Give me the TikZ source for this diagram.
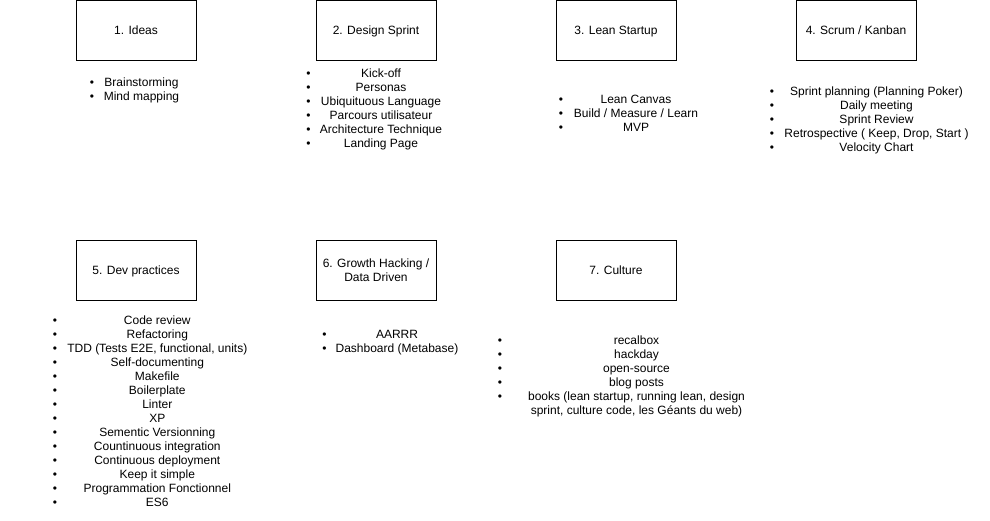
\documentclass[tikz,border=0pt]{standalone}
\usepackage{fontspec}
\setmainfont{Liberation Sans}
\begin{document}
\begin{tikzpicture}[x=1pt,y=-1pt,
  boxbase/.style={draw, line width=1pt, minimum width=120pt, minimum height=60pt, inner sep=0pt, align=center, font=\fontsize{12}{14}\selectfont},
  box/.style={boxbase, text height=9pt, text depth=0pt},
  itm/.style={inner sep=0pt, anchor=base, font=\fontsize{12}{14}\selectfont},
  bul/.style={inner sep=0pt, anchor=base, font=\fontsize{12}{14}\selectfont}]
\useasboundingbox (0,0) rectangle (990,520);
% boxes
\node[box] (b1) at (136,30) {1. Ideas};
\node[box] (b2) at (376,30) {2. Design Sprint};
\node[box] (b3) at (616,30) {3. Lean Startup};
\node[box] (b4) at (856,30) {4. Scrum / Kanban};
\node[box] (b5) at (136,270) {5. Dev practices};
\node[boxbase] (b6) at (376,270) {6. Growth Hacking /\\Data Driven};
\node[box] (b7) at (616,270) {7. Culture};
% lists
\foreach \t [count=\i] in {Brainstorming, Mind mapping} {
  \node[itm] (l1-\i) at (141.5, 86+14*\i-14) {\t};
  \node[bul] (d1-\i) at (92, 86+14*\i-14) {\textbullet};
}
\foreach \t [count=\i] in {Kick-off, Personas, Ubiquituous Language, Parcours utilisateur, Architecture Technique, Landing Page} {
  \node[itm] (l2-\i) at (381, 77.5+14*\i-14) {\t};
  \node[bul] (d2-\i) at (308.5, 77.5+14*\i-14) {\textbullet};
}
\foreach \t [count=\i] in {Lean Canvas, Build / Measure / Learn, MVP} {
  \node[itm] (l3-\i) at (636, 103+14*\i-14) {\t};
  \node[bul] (d3-\i) at (561, 103+14*\i-14) {\textbullet};
}
\foreach \t [count=\i] in {Sprint planning (Planning Poker), Daily meeting, Sprint Review, {Retrospective ( Keep, Drop, Start )}, Velocity Chart} {
  \node[itm] (l4-\i) at (876.5, 95+14*\i-14) {\t};
  \node[bul] (d4-\i) at (772, 95+14*\i-14) {\textbullet};
}
\foreach \t [count=\i] in {Code review, Refactoring, {TDD (Tests E2E, functional, units)}, Self-documenting, Makefile, Boilerplate, Linter, XP, Sementic Versionning, Countinuous integration, Continuous deployment, Keep it simple, Programmation Fonctionnel, ES6} {
  \node[itm] (l5-\i) at (157.3, 324+14*\i-14) {\t};
  \node[bul] (d5-\i) at (55, 324+14*\i-14) {\textbullet};
}
\foreach \t [count=\i] in {AARRR, Dashboard (Metabase)} {
  \node[itm] (l6-\i) at (397, 338+14*\i-14) {\t};
  \node[bul] (d6-\i) at (324.5, 338+14*\i-14) {\textbullet};
}
\foreach \t [count=\i] in {recalbox, hackday, open-source, blog posts, {books (lean startup, running lean, design}} {
  \node[itm] (l7-\i) at (636.5, 344.5+14*\i-14) {\t};
  \node[bul] (d7-\i) at (500, 344.5+14*\i-14) {\textbullet};
}
\node[itm] (l7-5b) at (636.5, 414.5) {sprint, culture code, les Géants du web)};
\end{tikzpicture}
\end{document}
